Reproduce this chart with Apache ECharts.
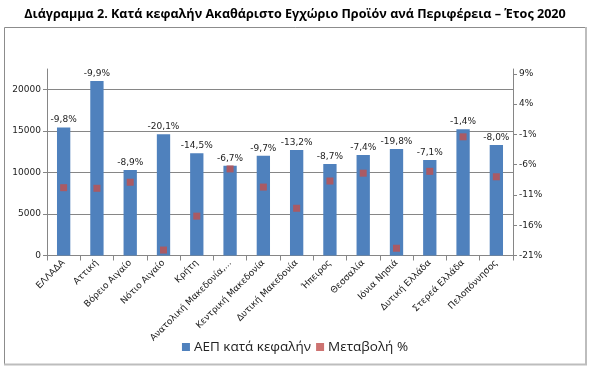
<!DOCTYPE html>
<html><head><meta charset="utf-8">
<script src="https://cdn.jsdelivr.net/npm/echarts@6/dist/echarts.min.js"></script>
<style>html,body{margin:0;padding:0;background:#fff}#c{width:590px;height:372px}</style>
</head><body><div id="c"></div>
<script>
const categories = ['ΕΛΛΑΔΑ','Αττική','Βόρειο Αιγαίο','Νότιο Αιγαίο','Κρήτη','Ανατολική Μακεδονία,...','Κεντρική Μακεδονία','Δυτική Μακεδονία','Ήπειρος','Θεσσαλία','Ιόνια Νησιά','Δυτική Ελλάδα','Στερεά Ελλάδα','Πελοπόννησος'];
const gdpPerCapita = [15400,21000,10300,14600,12300,10800,12000,12700,11000,12100,12800,11500,15200,13300];
const changePct = [-9.8,-9.9,-8.9,-20.1,-14.5,-6.7,-9.7,-13.2,-8.7,-7.4,-19.8,-7.1,-1.4,-8.0];
const leftTicks = [0,5000,10000,15000,20000];
const rightTicks = [-21,-16,-11,-6,-1,4,9];
const seriesNames = ['ΑΕΠ κατά κεφαλήν','Μεταβολή %'];
const titleText = 'Διάγραμμα 2. Κατά κεφαλήν Ακαθάριστο Εγχώριο Προϊόν ανά Περιφέρεια – Έτος 2020';

const fmtPct = v => v.toFixed(1).replace('.', ',') + '%';
const F = 'DejaVu Sans';
const chart = echarts.init(document.getElementById('c'));
chart.setOption({
  animation: false,
  title: { text: titleText, left: 'center', top: 3,
    textStyle: { fontFamily: 'Open Sans', fontWeight: 'bold', fontSize: 12.6, color: '#000' } },
  graphic: [
    { type: 'line', shape: { x1: 4.5, y1: 27.5, x2: 586, y2: 27.5 }, style: { stroke: '#8c8c8c', lineWidth: 1 } },
    { type: 'line', shape: { x1: 4.5, y1: 27.5, x2: 4.5, y2: 364 }, style: { stroke: '#8c8c8c', lineWidth: 1 } },
    { type: 'line', shape: { x1: 586, y1: 27, x2: 586, y2: 365 }, style: { stroke: '#bdbdbd', lineWidth: 2 } },
    { type: 'line', shape: { x1: 4, y1: 364.5, x2: 587, y2: 364.5 }, style: { stroke: '#bdbdbd', lineWidth: 2 } }
  ],
  legend: { top: 335, left: 'center', itemWidth: 8, itemHeight: 8, itemGap: 5,
    textStyle: { fontFamily: 'Open Sans', fontSize: 13.5, color: '#222', padding: [0, 0, 0, -1] },
    data: [{ name: seriesNames[0], icon: 'rect' }, { name: seriesNames[1], icon: 'rect' }] },
  grid: { left: 47, right: 77, top: 69, bottom: 116.5 },
  xAxis: { type: 'category', data: categories,
    axisLine: { lineStyle: { color: '#868686' } },
    axisTick: { show: true, length: 5, lineStyle: { color: '#868686' } },
    axisLabel: { interval: 0, rotate: 45, margin: 6, fontFamily: F, fontSize: 9, color: '#222' } },
  yAxis: [
    { type: 'value', min: 0, max: 22440,
      axisLine: { show: true, lineStyle: { color: '#868686' } },
      axisTick: { show: true, length: 4, customValues: leftTicks, lineStyle: { color: '#868686' } },
      axisLabel: { customValues: leftTicks, margin: 6, fontFamily: F, fontSize: 9, color: '#222', formatter: v => String(v) },
      splitLine: { show: true, lineStyle: { color: '#868686' } } },
    { type: 'value', min: -21, max: 9.8, position: 'right',
      axisLine: { show: true, lineStyle: { color: '#868686' } },
      axisTick: { show: true, length: 4, customValues: rightTicks, lineStyle: { color: '#868686' } },
      axisLabel: { customValues: rightTicks, margin: 6, fontFamily: F, fontSize: 9, color: '#222', formatter: v => v + '%' },
      splitLine: { show: false } }
  ],
  series: [
    { name: seriesNames[0], type: 'bar', data: gdpPerCapita, barWidth: '40%', yAxisIndex: 0,
      itemStyle: { color: '#4F81BD' },
      label: { show: true, position: 'top', distance: 3, fontFamily: F, fontSize: 9, color: '#222',
        formatter: p => fmtPct(changePct[p.dataIndex]) } },
    { name: seriesNames[1], type: 'scatter', data: changePct, yAxisIndex: 1, symbol: 'rect', symbolSize: 7,
      itemStyle: { color: '#C0504D' }, z: 5 }
  ]
});
</script></body></html>
